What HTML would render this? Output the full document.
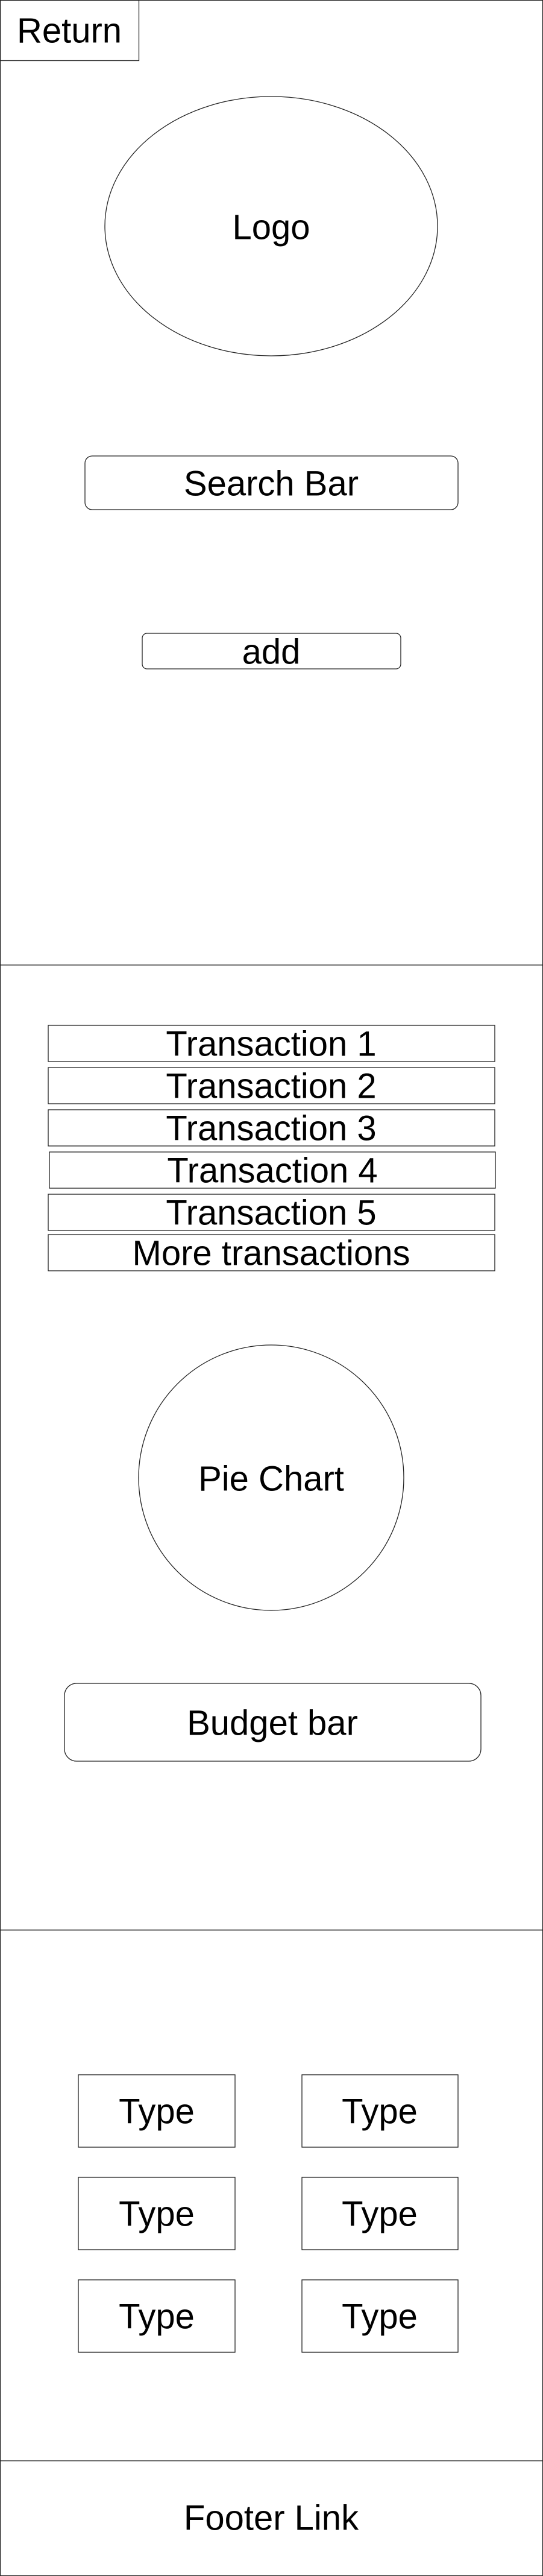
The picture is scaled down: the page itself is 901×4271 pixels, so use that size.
<!DOCTYPE html>
<html><head><meta charset="utf-8"><style>
html,body{margin:0;padding:0;background:#fff;}
svg{display:block;}
text{font-family:"Liberation Sans",Arial,sans-serif;font-size:58px;fill:#000;text-anchor:middle;dominant-baseline:central;}
</style></head><body>
<svg width="901" height="4271" viewBox="0 0 901 4271" xmlns="http://www.w3.org/2000/svg">
<g fill="none" stroke="#222" stroke-width="1.3">
<rect x="0.5" y="0.5" width="900" height="4270"/>
<line x1="0" y1="1600" x2="901" y2="1600"/>
<line x1="0" y1="3200" x2="901" y2="3200"/>
<line x1="0" y1="4080" x2="901" y2="4080"/>
<rect x="0.5" y="0.5" width="230" height="100"/>
<ellipse cx="450" cy="375" rx="276" ry="215"/>
<rect x="141" y="756" width="619" height="89" rx="12"/>
<rect x="236" y="1050" width="429" height="59" rx="8"/>
<rect x="80" y="1700" width="741" height="60"/>
<rect x="80" y="1770" width="741" height="60"/>
<rect x="80" y="1840" width="741" height="60"/>
<rect x="82" y="1910" width="740" height="60"/>
<rect x="80" y="1980" width="741" height="60"/>
<rect x="80" y="2047" width="741" height="60"/>
<ellipse cx="450" cy="2450" rx="220" ry="220"/>
<rect x="107" y="2791" width="691" height="129" rx="20"/>
<rect x="130" y="3440" width="260" height="120"/>
<rect x="501" y="3440" width="259" height="120"/>
<rect x="130" y="3610" width="260" height="120"/>
<rect x="501" y="3610" width="259" height="120"/>
<rect x="130" y="3780" width="260" height="120"/>
<rect x="501" y="3780" width="259" height="120"/>
</g>
<text x="115" y="51">Return</text>
<text x="450" y="377">Logo</text>
<text x="450" y="802">Search Bar</text>
<text x="450" y="1081">add</text>
<text x="450" y="1731">Transaction 1</text>
<text x="450" y="1801">Transaction 2</text>
<text x="450" y="1871">Transaction 3</text>
<text x="452" y="1941">Transaction 4</text>
<text x="450" y="2011">Transaction 5</text>
<text x="450" y="2078">More transactions</text>
<text x="450" y="2452">Pie Chart</text>
<text x="452" y="2857">Budget bar</text>
<text x="260" y="3501">Type</text>
<text x="630" y="3501">Type</text>
<text x="260" y="3671">Type</text>
<text x="630" y="3671">Type</text>
<text x="260" y="3841">Type</text>
<text x="630" y="3841">Type</text>
<text x="450" y="4175">Footer Link</text>
</g>
</svg>
</body></html>
